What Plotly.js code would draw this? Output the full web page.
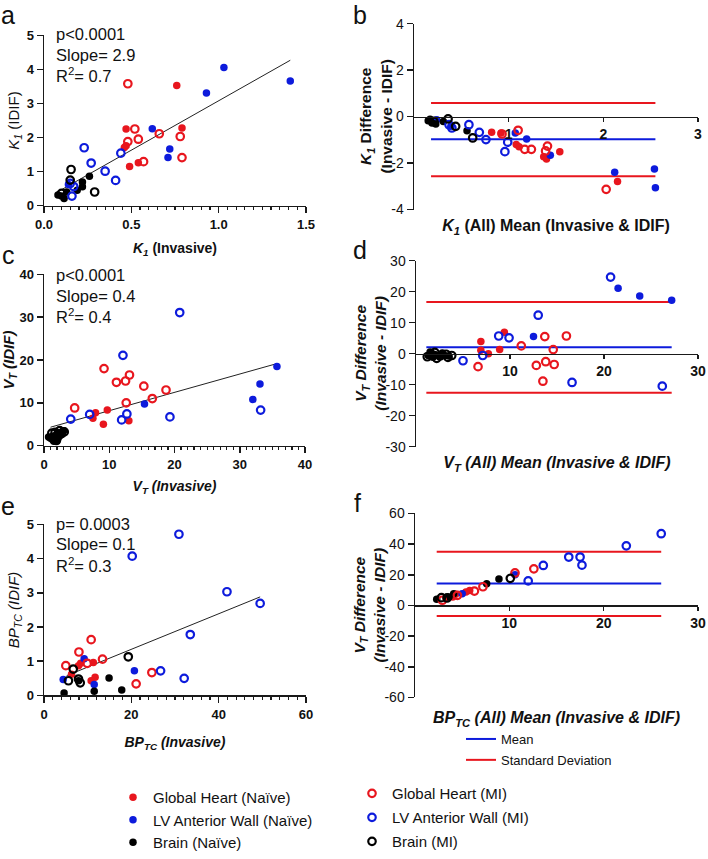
<!DOCTYPE html>
<html>
<head>
<meta charset="utf-8">
<script src="https://cdn.plot.ly/plotly-3.0.1.min.js"></script>
<style>
  html, body { margin: 0; padding: 0; background: #fff; }
  #chart { width: 708px; height: 859px; }
</style>
</head>
<body>
<div id="chart"></div>
<script>
// ---------- Panel a: K1, IDIF vs invasive ----------
const a_ghNaive_x = [0.76, 0.47, 0.79, 0.47, 0.46, 0.54, 0.49];
const a_ghNaive_y = [3.53, 2.25, 2.28, 1.76, 1.71, 1.26, 1.15];
const a_ghMI_x = [0.48, 0.52, 0.48, 0.54, 0.66, 0.78, 0.79, 0.57];
const a_ghMI_y = [3.58, 2.25, 1.88, 1.95, 2.11, 2.03, 1.41, 1.29];
const a_lvNaive_x = [1.03, 1.41, 0.93, 0.62, 0.72, 0.71, 0.14];
const a_lvNaive_y = [4.06, 3.66, 3.31, 2.26, 1.66, 1.41, 0.62];
const a_lvMI_x = [0.23, 0.27, 0.35, 0.41, 0.44, 0.15, 0.17, 0.16];
const a_lvMI_y = [1.70, 1.25, 1.01, 0.74, 1.54, 0.65, 0.56, 0.28];
const a_brNaive_x = [0.26, 0.22, 0.22, 0.08, 0.10, 0.115, 0.19, 0.13];
const a_brNaive_y = [0.86, 0.69, 0.55, 0.31, 0.28, 0.21, 0.45, 0.40];
const a_brMI_x = [0.155, 0.29, 0.15, 0.10];
const a_brMI_y = [1.06, 0.40, 0.75, 0.36];
const a_fit_x = [0.07, 1.41];
const a_fit_y = [0.38, 4.27];

// ---------- Panel b: K1 Bland-Altman ----------
const b_ghNaive_x = [0.82, 0.92, 1.08, 1.11, 1.37, 1.40, 1.54, 2.15];
const b_ghNaive_y = [-0.68, -0.71, -1.20, -1.30, -1.73, -1.83, -1.51, -2.79];
const b_ghMI_x = [1.10, 1.17, 1.24, 1.41, 1.39, 2.03, 0.93];
const b_ghMI_y = [-0.59, -1.41, -1.41, -1.27, -1.48, -3.13, -0.75];
const b_lvNaive_x = [0.24, 0.39, 1.07, 1.19, 1.44, 2.12, 2.54, 2.55];
const b_lvNaive_y = [-0.14, -0.42, -0.71, -0.96, -1.66, -2.40, -2.26, -3.06];
const b_lvMI_x = [0.58, 0.69, 0.76, 0.99, 0.96, 0.40, 0.37];
const b_lvMI_y = [-0.35, -0.68, -0.99, -1.10, -1.51, -0.49, -0.35];
const b_brNaive_x = [0.17, 0.19, 0.23, 0.31, 0.56, 0.15];
const b_brNaive_y = [-0.11, -0.28, -0.32, -0.21, -0.61, -0.18];
const b_brMI_x = [0.36, 0.44, 0.62, 0.21];
const b_brMI_y = [-0.10, -0.42, -0.92, -0.21];
const b_line_x = [0.18, 2.55];
const b_mean = -0.98;
const b_sdHigh = 0.58;
const b_sdLow = -2.57;
const b_yTicks = [-4, -2, 0, 2, 4];
const b_yTickText = ['-4', '-2', '0', '2', '4'];
const b_xTicks = [1, 2, 3];

// ---------- Panel c: VT, IDIF vs invasive ----------
const c_ghNaive_x = [7.9, 9.7, 7.5, 9.1, 13.0];
const c_ghNaive_y = [7.7, 8.3, 6.4, 5.0, 5.8];
const c_ghMI_x = [9.2, 11.1, 12.5, 13.1, 15.3, 18.7, 16.6, 12.6, 4.7];
const c_ghMI_y = [18.0, 14.8, 15.1, 16.5, 13.9, 13.0, 11.0, 10.0, 8.8];
const c_lvNaive_x = [35.7, 33.1, 32.0, 15.4];
const c_lvNaive_y = [18.5, 14.4, 10.8, 9.7];
const c_lvMI_x = [20.8, 12.1, 4.1, 7.0, 11.9, 12.7, 19.3, 33.2];
const c_lvMI_y = [31.1, 21.1, 6.2, 7.3, 6.0, 7.4, 6.7, 8.3];
const c_brNaive_x = [0.7, 1.0, 1.3, 1.6, 1.9, 2.2, 2.5, 2.8, 3.0, 1.5, 2.0];
const c_brNaive_y = [2.0, 1.7, 2.2, 1.5, 2.6, 3.0, 2.4, 3.3, 3.5, 1.0, 1.3];
const c_brMI_x = [1.2, 1.7, 2.1, 2.4, 2.7, 3.1, 1.4, 1.9];
const c_brMI_y = [2.9, 3.1, 2.0, 3.5, 2.8, 3.2, 1.6, 1.2];
const c_fit_x = [1.0, 35.3];
const c_fit_y = [4.3, 19.0];

// ---------- Panel d: VT Bland-Altman ----------
const d_ghNaive_x = [9.4, 6.9, 6.9, 7.7, 8.9];
const d_ghNaive_y = [6.9, 3.9, 1.1, 0.0, 1.3];
const d_ghMI_x = [11.2, 13.7, 16.0, 14.6, 13.8, 12.8, 14.7, 13.5, 6.6];
const d_ghMI_y = [2.5, 5.5, 5.7, 1.3, -2.6, -3.8, -3.5, -8.9, -4.2];
const d_lvNaive_x = [21.5, 23.8, 27.2, 12.5];
const d_lvNaive_y = [21.1, 18.6, 17.2, 5.5];
const d_lvMI_x = [20.7, 13.0, 8.8, 9.9, 5.0, 7.1, 16.6, 26.2];
const d_lvMI_y = [24.7, 12.4, 5.7, 5.1, -2.3, -0.6, -9.3, -10.5];
const d_brNaive_x = [1.5, 2.0, 2.5, 3.0, 3.5, 1.8, 2.8, 1.3];
const d_brNaive_y = [0.5, -0.3, -1.0, -0.5, -0.8, -1.2, 0.2, -0.6];
const d_brMI_x = [1.6, 2.2, 2.6, 3.2, 3.8, 2.0, 1.2, 3.4];
const d_brMI_y = [-0.1, -1.5, -0.7, -0.2, -0.6, 0.4, -1.0, -1.2];
const d_line_x = [1.1, 27.2];
const d_mean = 2.1;
const d_sdHigh = 16.7;
const d_sdLow = -12.6;
const d_yTicks = [-30, -20, -10, 0, 10, 20, 30];
const d_yTickText = ['-30', '-20', '-10', '0', '10', '20', '30'];
const d_xTicks = [10, 20, 30];

// ---------- Panel e: BPTC, IDIF vs invasive ----------
const e_ghNaive_x = [7.9, 8.4, 11.3, 11.7, 10.8, 6.3];
const e_ghNaive_y = [0.87, 0.94, 0.96, 0.53, 0.43, 0.62];
const e_ghMI_x = [10.8, 8.0, 5.0, 9.9, 13.4, 24.7, 21.1];
const e_ghMI_y = [1.63, 1.27, 0.87, 0.94, 1.06, 0.67, 0.34];
const e_lvNaive_x = [9.2, 4.4, 20.7, 11.5];
const e_lvNaive_y = [1.07, 0.47, 0.72, 0.32];
const e_lvMI_x = [30.9, 20.2, 41.9, 49.5, 33.5, 26.7, 32.1];
const e_lvMI_y = [4.71, 4.07, 3.03, 2.69, 1.78, 0.72, 0.50];
const e_brNaive_x = [4.6, 11.5, 14.9, 17.8, 7.9];
const e_brNaive_y = [0.07, 0.12, 0.51, 0.16, 0.43];
const e_brMI_x = [19.3, 6.7, 5.6, 8.3, 7.9];
const e_brMI_y = [1.13, 0.77, 0.43, 0.37, 0.48];
const e_fit_x = [5.2, 49.5];
const e_fit_y = [0.58, 2.88];

// ---------- Panel f: BPTC Bland-Altman ----------
const f_ghNaive_x = [5.8, 5.4, 4.3, 4.0, 3.3];
const f_ghNaive_y = [9.8, 8.8, 7.3, 5.6, 5.1];
const f_ghMI_x = [12.6, 10.6, 7.2, 6.3, 4.5, 2.9];
const f_ghMI_y = [23.9, 21.2, 12.2, 9.4, 6.6, 3.4];
const f_lvNaive_x = [10.6, 5.0];
const f_lvNaive_y = [20.1, 7.7];
const f_lvMI_x = [26.1, 22.4, 16.3, 17.5, 17.7, 13.6, 12.0];
const f_lvMI_y = [46.8, 38.9, 31.6, 31.6, 26.3, 26.1, 16.0];
const f_brNaive_x = [2.3, 7.6, 8.9, 3.6, 4.1];
const f_brNaive_y = [4.1, 14.1, 17.3, 5.6, 7.7];
const f_brMI_x = [10.1, 2.8, 3.4];
const f_brMI_y = [17.7, 5.1, 4.9];
const f_line_x = [2.3, 26.1];
const f_mean = 14.3;
const f_sdHigh = 35.0;
const f_sdLow = -6.8;
const f_yTicks = [-60, -40, -20, 0, 20, 40, 60];
const f_yTickText = ['-60', '-40', '-20', '0', '20', '40', '60'];
const f_xTicks = [10, 20, 30];

// ---------- styling ----------
const W = 708, H = 859;
const RED = '#e8161e', BLUE = '#0d1bdc', BLACK = '#000000';
const SANS = 'Liberation Sans, Arial, sans-serif';
const AXC = '#1a1a1a';

function domX(x0, x1) { return [x0 / W, x1 / W]; }
function domY(top, bottom) { return [1 - bottom / H, 1 - top / H]; }
// paper position of a data value along a y axis
function paperAt(dom, range, v) {
  return dom[0] + (v - range[0]) / (range[1] - range[0]) * (dom[1] - dom[0]);
}

const groups = [
  { key: 'ghNaive', name: 'Global Heart (Naïve)', color: RED, open: false, legend: 'legend2' },
  { key: 'lvNaive', name: 'LV Anterior Wall (Naïve)', color: BLUE, open: false, legend: 'legend2' },
  { key: 'brNaive', name: 'Brain (Naïve)', color: BLACK, open: false, legend: 'legend2' },
  { key: 'ghMI', name: 'Global Heart (MI)', color: RED, open: true, legend: 'legend3' },
  { key: 'lvMI', name: 'LV Anterior Wall (MI)', color: BLUE, open: true, legend: 'legend3' },
  { key: 'brMI', name: 'Brain (MI)', color: BLACK, open: true, legend: 'legend3' }
];

const panelData = {
  a: { ghNaive: [a_ghNaive_x, a_ghNaive_y], ghMI: [a_ghMI_x, a_ghMI_y], lvNaive: [a_lvNaive_x, a_lvNaive_y],
       lvMI: [a_lvMI_x, a_lvMI_y], brNaive: [a_brNaive_x, a_brNaive_y], brMI: [a_brMI_x, a_brMI_y] },
  b: { ghNaive: [b_ghNaive_x, b_ghNaive_y], ghMI: [b_ghMI_x, b_ghMI_y], lvNaive: [b_lvNaive_x, b_lvNaive_y],
       lvMI: [b_lvMI_x, b_lvMI_y], brNaive: [b_brNaive_x, b_brNaive_y], brMI: [b_brMI_x, b_brMI_y] },
  c: { ghNaive: [c_ghNaive_x, c_ghNaive_y], ghMI: [c_ghMI_x, c_ghMI_y], lvNaive: [c_lvNaive_x, c_lvNaive_y],
       lvMI: [c_lvMI_x, c_lvMI_y], brNaive: [c_brNaive_x, c_brNaive_y], brMI: [c_brMI_x, c_brMI_y] },
  d: { ghNaive: [d_ghNaive_x, d_ghNaive_y], ghMI: [d_ghMI_x, d_ghMI_y], lvNaive: [d_lvNaive_x, d_lvNaive_y],
       lvMI: [d_lvMI_x, d_lvMI_y], brNaive: [d_brNaive_x, d_brNaive_y], brMI: [d_brMI_x, d_brMI_y] },
  e: { ghNaive: [e_ghNaive_x, e_ghNaive_y], ghMI: [e_ghMI_x, e_ghMI_y], lvNaive: [e_lvNaive_x, e_lvNaive_y],
       lvMI: [e_lvMI_x, e_lvMI_y], brNaive: [e_brNaive_x, e_brNaive_y], brMI: [e_brMI_x, e_brMI_y] },
  f: { ghNaive: [f_ghNaive_x, f_ghNaive_y], ghMI: [f_ghMI_x, f_ghMI_y], lvNaive: [f_lvNaive_x, f_lvNaive_y],
       lvMI: [f_lvMI_x, f_lvMI_y], brNaive: [f_brNaive_x, f_brNaive_y], brMI: [f_brMI_x, f_brMI_y] }
};
// Bland-Altman points use the x axis that crosses at zero (x7, x8, x9)
const panelAxes = { a: ['x', 'y'], b: ['x7', 'y2'], c: ['x3', 'y3'], d: ['x8', 'y4'], e: ['x5', 'y5'], f: ['x9', 'y6'] };
const lineAxes = { b: ['x2', 'y2'], d: ['x4', 'y4'], f: ['x6', 'y6'] };

const traces = [];

// regression lines (scatter panels)
[['a', a_fit_x, a_fit_y], ['c', c_fit_x, c_fit_y], ['e', e_fit_x, e_fit_y]].forEach(([p, fx, fy]) => {
  traces.push({ type: 'scatter', mode: 'lines', x: fx, y: fy, xaxis: panelAxes[p][0], yaxis: panelAxes[p][1],
    line: { color: '#222', width: 1 }, showlegend: false, hoverinfo: 'skip' });
});

// mean and standard deviation lines (Bland-Altman panels)
[['b', b_line_x, b_mean, b_sdHigh, b_sdLow], ['d', d_line_x, d_mean, d_sdHigh, d_sdLow],
 ['f', f_line_x, f_mean, f_sdHigh, f_sdLow]].forEach(([p, lx, m, hi, lo]) => {
  const first = p === 'b';
  const ax = lineAxes[p];
  traces.push({ type: 'scatter', mode: 'lines', x: lx, y: [m, m], xaxis: ax[0], yaxis: ax[1],
    line: { color: BLUE, width: 2 }, name: 'Mean', legendgroup: 'mean', showlegend: first, legend: 'legend' });
  traces.push({ type: 'scatter', mode: 'lines', x: lx, y: [hi, hi], xaxis: ax[0], yaxis: ax[1],
    line: { color: RED, width: 2 }, name: 'Standard Deviation', legendgroup: 'sd', showlegend: first, legend: 'legend' });
  traces.push({ type: 'scatter', mode: 'lines', x: lx, y: [lo, lo], xaxis: ax[0], yaxis: ax[1],
    line: { color: RED, width: 2 }, name: 'Standard Deviation', legendgroup: 'sd', showlegend: false, legend: 'legend' });
});

// data points
['a', 'b', 'c', 'd', 'e', 'f'].forEach(p => {
  groups.forEach(g => {
    const [xs, ys] = panelData[p][g.key];
    traces.push({
      type: 'scatter', mode: 'markers', x: xs, y: ys,
      xaxis: panelAxes[p][0], yaxis: panelAxes[p][1], cliponaxis: false,
      name: g.name, legendgroup: g.key, legend: g.legend, showlegend: p === 'a',
      marker: g.open
        ? { symbol: 'circle-open', size: 7.5, color: g.color, line: { color: g.color, width: 2.2 } }
        : { symbol: 'circle', size: 7.5, color: g.color, line: { width: 0 } }
    });
  });
});

// ---------- axes ----------
const base = {
  showline: true, linecolor: AXC, linewidth: 1.5, ticks: 'outside', ticklen: 6, tickwidth: 1.5,
  tickcolor: AXC, showgrid: false, zeroline: false, automargin: false, fixedrange: true
};
const boldTick = { family: SANS, size: 13, color: '#111', weight: 'bold' };
const boldTick14 = { family: SANS, size: 14, color: '#111', weight: 'bold' };
const regTick = { family: SANS, size: 14, color: '#111' };
const minorX = (dt) => ({ dtick: dt, ticks: 'outside', ticklen: 3, tickwidth: 1.2, tickcolor: AXC });
const titleOnly = { showline: false, showticklabels: false, ticks: '', showgrid: false, zeroline: false,
  automargin: false, fixedrange: true };

const dA = { x: domX(44, 306), y: domY(36, 209) };
const dB = { x: domX(414, 698), y: domY(24, 213) };
const dC = { x: domX(44, 305), y: domY(279, 453) };
const dD = { x: domX(416, 698), y: domY(265, 454) };
const dE = { x: domX(44, 306), y: domY(533, 707) };
const dF = { x: domX(415, 698), y: domY(522, 709) };

const rB = [-4, 4], rD = [-30, 30], rF = [-60, 60];

const layout = {
  width: W, height: H,
  margin: { l: 0, r: 0, t: 0, b: 0 },
  paper_bgcolor: '#fff', plot_bgcolor: 'rgba(0,0,0,0)',
  font: { family: SANS, color: '#111' },
  hovermode: false,

  // a
  xaxis: Object.assign({}, base, { domain: dA.x, anchor: 'y', range: [0, 1.5], tick0: 0, dtick: 0.5, tickformat: '.1f',
    minor: minorX(0.05), tickfont: boldTick,
    title: { text: '<i>K<sub>1</sub></i> (Invasive)', font: { size: 14, weight: 'bold' }, standoff: 12 } }),
  yaxis: Object.assign({}, base, { domain: dA.y, anchor: 'x', range: [0, 5], dtick: 1, tickfont: boldTick,
    title: { text: '<i>K<sub>1</sub></i> (IDIF)', font: { size: 15 }, standoff: 3 } }),

  // b
  xaxis2: Object.assign({}, titleOnly, { domain: dB.x, anchor: 'y2', range: [0, 3],
    title: { text: '<i>K<sub>1</sub></i> (All) Mean (Invasive & IDIF)', font: { size: 16, weight: 'bold' }, standoff: 10 } }),
  yaxis2: Object.assign({}, base, { domain: dB.y, anchor: 'x2', range: rB, tickvals: b_yTicks, ticktext: b_yTickText,
    tickfont: regTick }),
  xaxis7: Object.assign({}, base, { overlaying: 'x2', anchor: 'free', position: paperAt(dB.y, rB, 0),
    range: [0, 3], tickvals: b_xTicks, tickfont: boldTick14, ticklen: 4 }),

  // c
  xaxis3: Object.assign({}, base, { domain: dC.x, anchor: 'y3', range: [0, 40], dtick: 10, minor: minorX(1),
    tickfont: boldTick,
    title: { text: '<i>V<sub>T</sub> (Invasive)</i>', font: { size: 14, weight: 'bold' }, standoff: 10 } }),
  yaxis3: Object.assign({}, base, { domain: dC.y, anchor: 'x3', range: [0, 40], dtick: 10, tickfont: boldTick,
    title: { text: '<i>V<sub>T</sub> (IDIF)</i>', font: { size: 15, weight: 'bold' }, standoff: 3 } }),

  // d
  xaxis4: Object.assign({}, titleOnly, { domain: dD.x, anchor: 'y4', range: [0, 30],
    title: { text: '<i>V<sub>T</sub> (All) Mean (Invasive & IDIF)</i>', font: { size: 16, weight: 'bold' }, standoff: 10 } }),
  yaxis4: Object.assign({}, base, { domain: dD.y, anchor: 'x4', range: rD, tickvals: d_yTicks, ticktext: d_yTickText,
    tickfont: regTick }),
  xaxis8: Object.assign({}, base, { overlaying: 'x4', anchor: 'free', position: paperAt(dD.y, rD, 0),
    range: [0, 30], tickvals: d_xTicks, tickfont: boldTick14, ticklen: 4 }),

  // e
  xaxis5: Object.assign({}, base, { domain: dE.x, anchor: 'y5', range: [0, 60], dtick: 20, minor: minorX(2),
    tickfont: boldTick,
    title: { text: '<i>BP<sub>TC</sub> (Invasive)</i>', font: { size: 14, weight: 'bold' }, standoff: 16 } }),
  yaxis5: Object.assign({}, base, { domain: dE.y, anchor: 'x5', range: [0, 5], dtick: 1, tickfont: boldTick,
    title: { text: '<i>BP<sub>TC</sub> (IDIF)</i>', font: { size: 15 }, standoff: 3 } }),

  // f
  xaxis6: Object.assign({}, titleOnly, { domain: dF.x, anchor: 'y6', range: [0, 30],
    title: { text: '<i>BP<sub>TC</sub> (All) Mean (Invasive & IDIF)</i>', font: { size: 16, weight: 'bold' }, standoff: 14 } }),
  yaxis6: Object.assign({}, base, { domain: dF.y, anchor: 'x6', range: rF, tickvals: f_yTicks, ticktext: f_yTickText,
    tickfont: regTick }),
  xaxis9: Object.assign({}, base, { overlaying: 'x6', anchor: 'free', position: paperAt(dF.y, rF, 0),
    range: [0, 30], tickvals: f_xTicks, tickfont: boldTick14, ticklen: 4 }),

  // legends (kept inside the figure so they do not push the margins)
  legend: { x: 461 / W, y: 1 - 736 / H, xanchor: 'left', yanchor: 'top', bgcolor: 'rgba(0,0,0,0)',
    font: { family: SANS, size: 13, color: '#111' }, tracegroupgap: 1 },
  legend2: { x: 113 / W, y: 1 - 794 / H, xanchor: 'left', yanchor: 'top', bgcolor: 'rgba(0,0,0,0)',
    font: { family: SANS, size: 15, color: '#111' }, tracegroupgap: 0 },
  legend3: { x: 352 / W, y: 1 - 790 / H, xanchor: 'left', yanchor: 'top', bgcolor: 'rgba(0,0,0,0)',
    font: { family: SANS, size: 15, color: '#111' }, tracegroupgap: 1.5 },

  annotations: []
};

// vertical titles of the Bland-Altman panels
[['<i>K<sub>1</sub></i> Difference<br>(Invasive - IDIF)', 376, dB.y],
 ['<i>V<sub>T</sub> Difference<br>(Invasive - IDIF)</i>', 371, dD.y],
 ['<i>V<sub>T</sub> Difference<br>(Invasive - IDIF)</i>', 369, dF.y]].forEach(([t, x, dy]) => {
  layout.annotations.push({ text: t, xref: 'paper', yref: 'paper', x: x / W, y: (dy[0] + dy[1]) / 2,
    xanchor: 'center', yanchor: 'middle', textangle: -90, showarrow: false,
    font: { family: SANS, size: 15.5, weight: 'bold', color: '#111' } });
});

// panel letters
[['a', 8, 15], ['b', 360, 15], ['c', 8, 259], ['d', 360, 254], ['e', 8, 514], ['f', 358, 511]].forEach(([t, x, y]) => {
  layout.annotations.push({ text: t, xref: 'paper', yref: 'paper', x: x / W, y: 1 - y / H,
    xanchor: 'center', yanchor: 'middle', showarrow: false, font: { family: SANS, size: 25, color: '#111' } });
});

// regression statistics
const stats = [
  ['a', ['p<0.0001', 'Slope= 2.9', 'R<sup>2</sup>= 0.7']],
  ['c', ['p<0.0001', 'Slope= 0.4', 'R<sup>2</sup>= 0.4']],
  ['e', ['p= 0.0003', 'Slope= 0.1', 'R<sup>2</sup>= 0.3']]
];
const statTop = { a: 35, c: 280, e: 533 };
stats.forEach(([p, lines]) => {
  lines.forEach((t, i) => {
    layout.annotations.push({ text: t, xref: 'paper', yref: 'paper', x: 54 / W, y: 1 - (statTop[p] + i * 20.5) / H,
      xanchor: 'left', yanchor: 'middle', showarrow: false, font: { family: SANS, size: 16.5, color: '#111' } });
  });
});

Plotly.newPlot('chart', traces, layout, { staticPlot: true, displayModeBar: false });
</script>
</body>
</html>
